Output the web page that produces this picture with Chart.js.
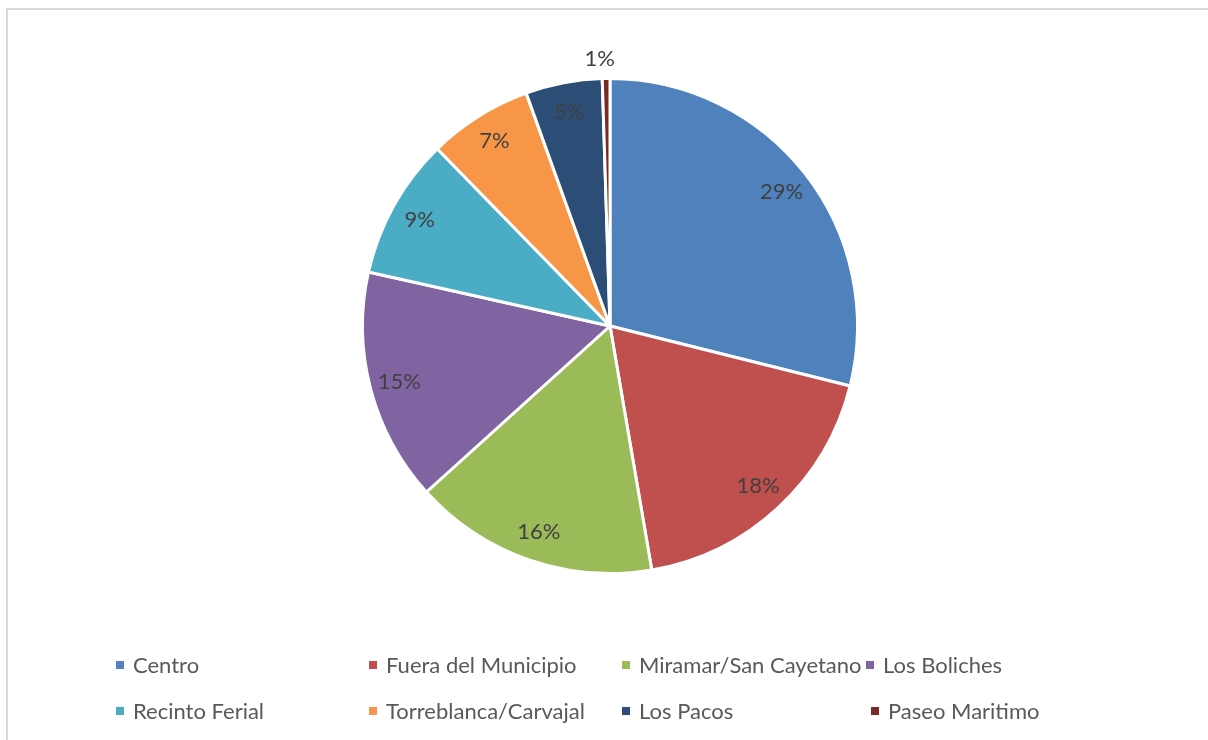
<!DOCTYPE html>
<html>
<head>
<meta charset="utf-8">
<script src="https://cdn.jsdelivr.net/npm/chart.js@4.4.1/dist/chart.umd.min.js"></script>
<style>
  html, body { margin: 0; padding: 0; background: #fff; }
  #wrap { position: relative; width: 1208px; height: 740px; overflow: hidden; }
  #frame { position: absolute; left: 6px; top: 8px; width: 1300px; height: 900px; border-left: 2px solid #d9d9d9; border-top: 2px solid #d9d9d9; box-sizing: border-box; }
  #c { position: absolute; left: 0; top: 0; }
  .leg { position: absolute; font-family: Lato, "Open Sans", sans-serif; font-size: 22px; color: #595959; white-space: nowrap; line-height: 26px; }
  .leg span.box { display: inline-block; width: 8px; height: 8px; margin-right: 9px; vertical-align: middle; position: relative; top: -2px; }
</style>
</head>
<body>
<div id="wrap">
  <div id="frame"></div>
  <canvas id="c" width="1208" height="740"></canvas>
  <div id="legend"></div>
</div>
<script>
const categories = ["Centro", "Fuera del Municipio", "Miramar/San Cayetano", "Los Boliches", "Recinto Ferial", "Torreblanca/Carvajal", "Los Pacos", "Paseo Maritimo"];
const values = [28.9, 18.4, 16.0, 15.2, 9.2, 6.8, 5.0, 0.5];
const colors = ["#4F81BD", "#C0504D", "#9BBB59", "#8064A2", "#4BACC6", "#F79646", "#2C4D75", "#772C2A"];

const total = values.reduce((a, b) => a + b, 0);
const pctLabels = values.map(v => Math.round(v / total * 100) + "%");

const labelPlugin = {
  id: 'pctLabels',
  afterDatasetsDraw(chart) {
    const ctx = chart.ctx;
    const meta = chart.getDatasetMeta(0);
    ctx.save();
    ctx.font = '22px Lato, "Open Sans", sans-serif';
    ctx.fillStyle = '#404040';
    ctx.textAlign = 'center';
    ctx.textBaseline = 'middle';
    meta.data.forEach((arc, i) => {
      const p = arc.getProps(['x', 'y', 'startAngle', 'endAngle', 'outerRadius']);
      const mid = (p.startAngle + p.endAngle) / 2;
      const span = p.endAngle - p.startAngle;
      const d = span < 0.05 ? p.outerRadius + 20 : p.outerRadius * 0.88;
      const dx = span < 0.05 ? -6 : 0;
      ctx.fillText(pctLabels[i], p.x + Math.cos(mid) * d + dx, p.y + Math.sin(mid) * d);
    });
    ctx.restore();
  }
};

new Chart(document.getElementById('c'), {
  type: 'pie',
  data: {
    labels: categories,
    datasets: [{
      data: values,
      backgroundColor: colors,
      borderColor: '#ffffff',
      borderWidth: 3
    }]
  },
  options: {
    responsive: false,
    animation: false,
    layout: { padding: { top: 77, bottom: 165, left: 12, right: 0 } },
    plugins: { legend: { display: false }, tooltip: { enabled: false } }
  },
  plugins: [labelPlugin]
});

// Legend (Excel-style grid)
const legX = [116, 369, 622, 866, 116, 369, 622, 871];
const legY = [665, 665, 665, 665, 711, 711, 711, 711];
const legend = document.getElementById('legend');
categories.forEach((name, i) => {
  const d = document.createElement('div');
  d.className = 'leg';
  d.style.left = legX[i] + 'px';
  d.style.top = (legY[i] - 13) + 'px';
  d.innerHTML = '<span class="box" style="background:' + colors[i] + '"></span>' + name;
  legend.appendChild(d);
});
</script>
</body>
</html>
